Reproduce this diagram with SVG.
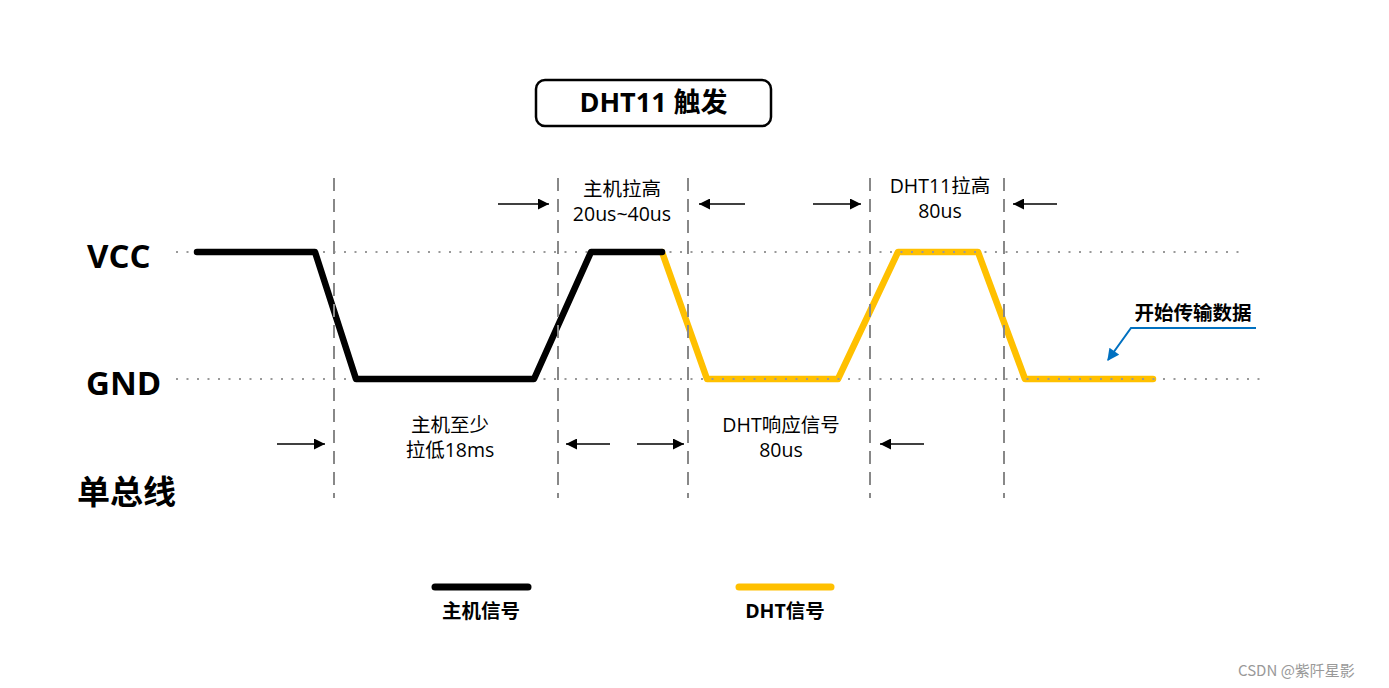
<svg xmlns="http://www.w3.org/2000/svg" width="1389" height="688" viewBox="0 0 1389 688">
<defs>
<style>
.wave{fill:none;stroke-width:6.5;stroke-linejoin:round;stroke-linecap:round}
.blk{stroke:#000}
.yel{stroke:#FFC000}
.dot{stroke:#999;stroke-width:2;stroke-dasharray:2 8.5;fill:none}
.dash{stroke:#888;stroke-width:2;stroke-dasharray:13 8;fill:none}
.arr{stroke:#000;stroke-width:1.6;fill:none;marker-end:url(#ah)}
.lbl{font-family:"Open Sans","Noto Sans CJK SC",sans-serif;font-size:19.5px;fill:#000;text-anchor:middle}
.big{font-family:"Open Sans","Noto Sans CJK SC",sans-serif;font-size:33px;font-weight:bold;fill:#000}
.leg{font-family:"Open Sans","Noto Sans CJK SC",sans-serif;font-size:19.5px;font-weight:bold;fill:#000;text-anchor:middle}
</style>
<marker id="ah" viewBox="0 0 10 10" refX="10" refY="5" markerWidth="12" markerHeight="11" markerUnits="userSpaceOnUse" orient="auto">
<path d="M0,0 L10,5 L0,10 Z" fill="#000"/>
</marker>
<marker id="bh" viewBox="0 0 10 10" refX="9" refY="5" markerWidth="14" markerHeight="12" markerUnits="userSpaceOnUse" orient="auto">
<path d="M0,0 L10,5 L0,10 Z" fill="#0070C0"/>
</marker>
</defs>

<g id="title">
<rect x="536" y="80" width="235" height="46" rx="9" fill="#fff" stroke="#000" stroke-width="2.5"/>
<text x="653.5" y="112" font-family="'Open Sans','Noto Sans CJK SC',sans-serif" font-size="27" font-weight="bold" text-anchor="middle">DHT11 触发</text>
</g>

<g id="axis-labels">
<text class="big" x="87" y="268">VCC</text>
<text class="big" x="86" y="395">GND</text>
<text class="big" x="77" y="504">单总线</text>
</g>

<g id="waveforms">
<polyline id="dht-signal" class="wave yel" points="662,252 707,379 838,379 898,252 978,252 1025,379 1153,379"/>
<g id="grid-dots">
<line class="dot" x1="176" y1="252" x2="1242" y2="252"/>
<line class="dot" x1="176" y1="379" x2="1260" y2="379"/>
</g>
<polyline id="host-signal" class="wave blk" points="197,252 315,252 356,379 534,379 591,252 662,252"/>
</g>

<g id="grid">
<line class="dash" x1="334" y1="178" x2="334" y2="498"/>
<line class="dash" x1="558" y1="178" x2="558" y2="498"/>
<line class="dash" x1="688" y1="178" x2="688" y2="498"/>
<line class="dash" x1="870" y1="178" x2="870" y2="498"/>
<line class="dash" x1="1004" y1="178" x2="1004" y2="498"/>
</g>

<g id="connectors">
<line class="arr" x1="498" y1="204" x2="549" y2="204"/>
<line class="arr" x1="745" y1="204" x2="699" y2="204"/>
<line class="arr" x1="813" y1="204" x2="861" y2="204"/>
<line class="arr" x1="1057" y1="204" x2="1013" y2="204"/>
<line class="arr" x1="277" y1="444" x2="325" y2="444"/>
<line class="arr" x1="610" y1="444" x2="566" y2="444"/>
<line class="arr" x1="637" y1="444" x2="684" y2="444"/>
<line class="arr" x1="924" y1="444" x2="880" y2="444"/>
<polyline points="1256,328 1131,328 1108,360" fill="none" stroke="#0070C0" stroke-width="2" marker-end="url(#bh)"/>
</g>

<g id="labels">
<text class="lbl" x="622" y="196">主机拉高</text>
<text class="lbl" x="622" y="221">20us~40us</text>
<text class="lbl" x="940" y="193">DHT11拉高</text>
<text class="lbl" x="940" y="218">80us</text>
<text class="lbl" x="450" y="432">主机至少</text>
<text class="lbl" x="450" y="457">拉低18ms</text>
<text class="lbl" x="781" y="432">DHT响应信号</text>
<text class="lbl" x="781" y="457">80us</text>
<text x="1193" y="320" font-family="'Open Sans','Noto Sans CJK SC',sans-serif" font-size="19.5" font-weight="bold" text-anchor="middle">开始传输数据</text>
</g>

<g id="legend">
<line x1="435" y1="587" x2="528" y2="587" stroke="#000" stroke-width="7" stroke-linecap="round"/>
<line x1="739" y1="587" x2="831" y2="587" stroke="#FFC000" stroke-width="7" stroke-linecap="round"/>
<text class="leg" x="481" y="618">主机信号</text>
<text class="leg" x="785" y="618">DHT信号</text>
</g>

<text x="1238" y="676" font-family="'Noto Sans CJK SC',sans-serif" font-size="15" fill="#999">CSDN @紫阡星影</text>
</svg>
